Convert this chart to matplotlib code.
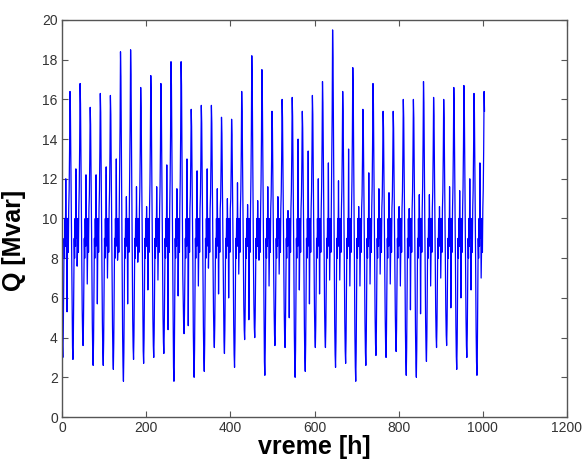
import numpy as np
import matplotlib
matplotlib.use("Agg")
import matplotlib.pyplot as plt

# daily maxima (evening peak, ~hour 19)
day_peaks = [16.4, 16.8, 15.6, 16.3, 16.2, 18.4, 18.5, 16.6, 17.2, 16.8,
             17.9, 17.9, 15.5, 15.7, 15.7, 15.1, 15.0, 16.4, 18.2, 17.5,
             15.4, 16.0, 16.1, 15.4, 16.2, 16.9, 19.5, 16.4, 17.6, 15.5,
             16.8, 15.4, 15.4, 16.0, 16.0, 16.9, 16.1, 16.0, 16.6, 16.7,
             16.3, 16.4]

# daily minima (night, ~hour 2)
day_troughs = [3.0, 2.9, 3.6, 2.6, 2.6, 2.4, 1.8, 2.9, 2.7, 3.0,
               3.2, 1.8, 4.2, 2.0, 2.3, 3.5, 3.2, 2.5, 3.9, 4.0,
               2.1, 3.6, 3.5, 2.0, 2.3, 3.5, 3.5, 2.5, 2.7, 1.8,
               2.6, 3.1, 3.0, 3.3, 2.1, 2.0, 2.8, 3.5, 3.6, 2.4,
               3.0, 2.1]

# secondary morning spike and midday dip of each day
day_hi = [12.0, 12.5, 12.2, 12.2, 12.6, 13.0, 11.1, 11.6, 10.6, 11.6,
          12.7, 11.5, 13.0, 12.4, 12.5, 11.5, 11.0, 11.8, 10.7, 10.9,
          11.6, 11.1, 10.4, 14.0, 13.4, 12.0, 12.8, 11.9, 13.5, 10.6,
          12.3, 11.5, 11.3, 10.6, 10.5, 11.2, 11.2, 10.6, 11.6, 11.4,
          12.0, 12.8]
day_lo = [5.3, 7.6, 6.7, 5.7, 7.0, 7.9, 5.7, 7.8, 6.4, 6.9,
          4.4, 6.1, 4.6, 6.6, 7.5, 6.2, 6.0, 7.2, 4.9, 7.9,
          6.6, 7.2, 5.0, 6.4, 5.7, 6.2, 6.9, 6.9, 6.6, 6.6,
          6.7, 7.2, 6.7, 6.6, 5.4, 5.2, 6.6, 7.0, 5.5, 6.0,
          6.4, 7.0]

# typical hourly shape of one day (Mvar), hours 0..23
day_profile = [5.0, 3.6, 3.0, 4.2, 6.5, 9.0, 8.0, 10.0, 8.6, 12.0,
               9.0, 10.0, 6.0, 8.5, 10.0, 8.3, 10.5, 11.5, 13.5, 16.5,
               15.5, 13.0, 10.0, 7.5]

n_hours = 1005
MID = 9.0
TROUGH_H, HI_H, LO_H, PEAK_H = 2, 9, 12, 19

q = []
for peak, trough, hi, lo in zip(day_peaks, day_troughs, day_hi, day_lo):
    day = list(day_profile)
    for h in range(17, 23):
        day[h] = MID + (day[h] - MID) * (peak - MID) / (day_profile[PEAK_H] - MID)
    for h in (23, 0, 1, 2, 3, 4):
        day[h] = MID - (MID - day[h]) * (MID - trough) / (MID - day_profile[TROUGH_H])
    day[HI_H] = hi
    day[LO_H] = lo
    q.extend(day)
q = np.array(q[:n_hours])
hours = np.arange(len(q))

fig = plt.figure(figsize=(5.84, 4.61), dpi=100)
ax = fig.add_axes([62 / 584, 44 / 461, 505 / 584, 397 / 461])

ax.plot(hours, q, color="blue", linewidth=0.9)

ax.set_xlim(0, 1200)
ax.set_ylim(0, 20)
ax.set_xticks(np.arange(0, 1201, 200))
ax.set_yticks(np.arange(0, 21, 2))

ax.tick_params(direction="in", length=4, width=0.8, top=True, right=True,
               labelsize=10, labelcolor="#333333", color="#555555", pad=3)
for s in ax.spines.values():
    s.set_color("#555555")
    s.set_linewidth(1.0)

font = {"family": "Liberation Sans", "weight": "bold", "size": 18}
for lab in ax.get_xticklabels() + ax.get_yticklabels():
    lab.set_fontfamily("Liberation Sans")

ax.set_xlabel("vreme [h]", fontdict=font, labelpad=0)
ax.set_ylabel("Q [Mvar]", fontdict=font)
ax.yaxis.set_label_coords(-0.071, 0.446)

fig.savefig("out.png", dpi=100)
